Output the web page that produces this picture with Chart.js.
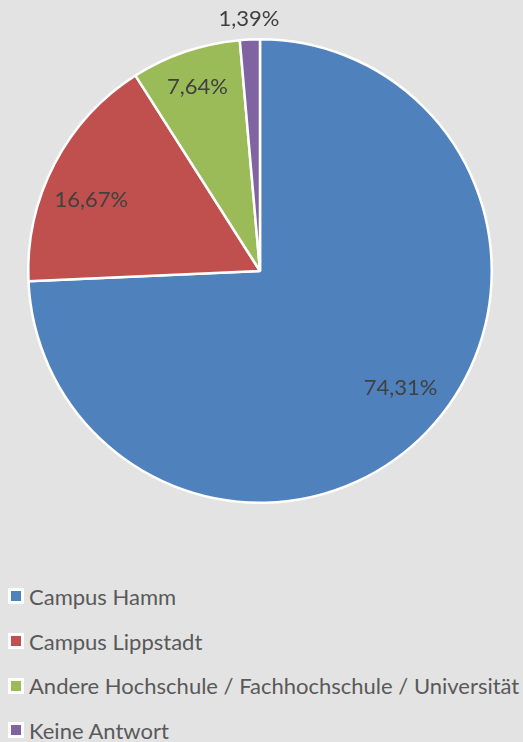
<!DOCTYPE html>
<html>
<head>
<meta charset="utf-8">
<script src="https://cdn.jsdelivr.net/npm/chart.js@4"></script>
<style>
    html, body { margin: 0; padding: 0; }
    body { width: 523px; height: 742px; background: #e3e3e3; position: relative; overflow: hidden; font-family: Lato, 'Open Sans', sans-serif; }
    #chartBox { position: absolute; left: 0; top: 0; width: 520px; height: 542px; }
    #legend { position: absolute; left: 8px; top: 574px; }
    .leg-item { display: flex; align-items: center; height: 44.7px; color: #595959; font-size: 22px; white-space: nowrap; }
    .leg-box { width: 10px; height: 10px; border: 3px solid #fff; margin-right: 5px; }
</style>
</head>
<body>
<div id="chartBox"><canvas id="pie"></canvas></div>
<div id="legend"></div>
<script>
const categories = ['Campus Hamm', 'Campus Lippstadt', 'Andere Hochschule / Fachhochschule / Universität', 'Keine Antwort'];
const shares = [74.31, 16.67, 7.64, 1.39];
const sliceColors = ['#4f81bd', '#c0504d', '#9bbb59', '#8064a2'];

// label placement per slice: fraction of radius, angle nudge in degrees
const labelPlacement = [
    { f: 0.79, da: -3.9 },
    { f: 0.79, da: -4.7 },
    { f: 0.84, da: 0 },
    { f: 1.087, da: 0 }
];

const fmt = v => v.toFixed(2).replace('.', ',') + '%';

const pieLabels = {
    id: 'pieLabels',
    afterDatasetsDraw(chart) {
        const ctx = chart.ctx;
        const meta = chart.getDatasetMeta(0);
        ctx.save();
        ctx.font = '22px Lato, "Open Sans", sans-serif';
        ctx.fillStyle = '#404040';
        ctx.textAlign = 'center';
        ctx.textBaseline = 'middle';
        meta.data.forEach((arc, i) => {
            const p = labelPlacement[i];
            const mid = (arc.startAngle + arc.endAngle) / 2 + p.da * Math.PI / 180;
            const r = arc.outerRadius * p.f;
            ctx.fillText(fmt(shares[i]), arc.x + Math.cos(mid) * r, arc.y + Math.sin(mid) * r);
        });
        ctx.restore();
    }
};

const chart = new Chart(document.getElementById('pie'), {
    type: 'pie',
    data: {
        labels: categories,
        datasets: [{
            data: shares,
            backgroundColor: sliceColors,
            borderColor: '#ffffff',
            borderWidth: 2.5
        }]
    },
    options: {
        responsive: true,
        maintainAspectRatio: false,
        animation: false,
        layout: { padding: { left: 27, right: 27, top: 38, bottom: 38 } },
        plugins: {
            legend: { display: false },
            tooltip: { enabled: false }
        }
    },
    plugins: [pieLabels]
});

// legend as html, one entry per row
const legendEl = document.getElementById('legend');
categories.forEach((name, i) => {
    const item = document.createElement('div');
    item.className = 'leg-item';
    item.innerHTML = `<span class="leg-box" style="background:${sliceColors[i]}"></span><span>${name}</span>`;
    legendEl.appendChild(item);
});
</script>
</body>
</html>
